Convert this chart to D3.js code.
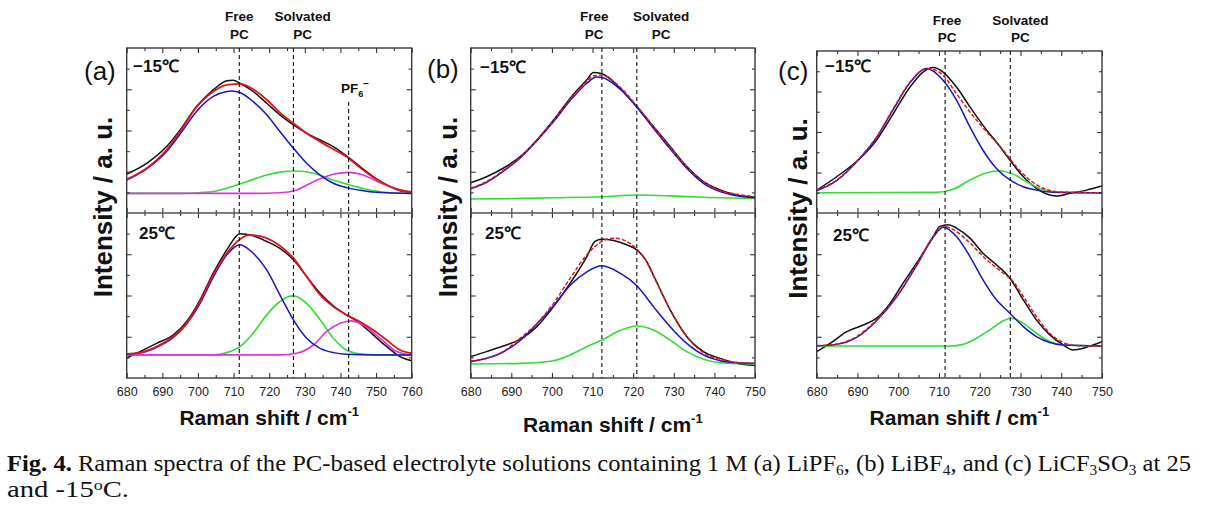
<!DOCTYPE html>
<html><head><meta charset="utf-8">
<script src="https://cdn.jsdelivr.net/npm/d3@7/dist/d3.min.js"></script>
<style>body{margin:0;background:#fff}svg{display:block}</style>
</head><body><svg id="chart" width="1208" height="510"></svg>
<script>
// ---------------- data (Raman shift cm-1, intensity a.u.) ----------------
const xTicks760 = [680,690,700,710,720,730,740,750,760];
const xMinor760 = [685,695,705,715,725,735,745,755];
const xTicks750 = [680,690,700,710,720,730,740,750];
const xMinor750 = [685,695,705,715,725,735,745];
const yMajor = [2,4,6];
const yMinor = [1,3,5,7];
const tempLabels = ["\u221215\u2103", "25\u2103"];
const panelLetters = ["(a)", "(b)", "(c)"];

// (a) LiPF6
const aTopBlack = [[680,1.89],[685.6,2.41],[691.2,3.22],[695,4.03],[699.6,5.16],[704.3,5.97],[708.1,6.41],[709.9,6.44],[711.8,6.29],[715.5,5.89],[719.3,5.32],[723,4.76],[726.8,4.27],[730.5,3.87],[734.3,3.54],[738,3.22],[741.7,2.77],[745.5,2.25],[749.2,1.76],[753,1.36],[756.7,1.08],[760,0.99]];
const aTopRed = [[680,1.63],[685.6,2.17],[691.2,3.06],[695,3.95],[699.6,5.13],[704.3,5.89],[708.1,6.21],[711.8,6.26],[715.5,6.0],[719.3,5.49],[723,4.87],[726.8,4.35],[730.5,3.87],[734.3,3.46],[738,3.09],[741.7,2.73],[745.5,2.2],[749.2,1.73],[753,1.36],[756.7,1.12],[760,1.02]];
const aTopBlue = [[680,1.6],[685.6,2.14],[691.2,2.98],[695,3.83],[699.6,4.92],[704.3,5.65],[708.1,5.89],[709.5,5.92],[711.8,5.84],[715.5,5.4],[719.3,4.76],[723,3.95],[726.8,3.14],[730.5,2.41],[734.3,1.84],[738,1.44],[741.7,1.23],[746.4,1.08],[751.1,0.99],[760,0.95]];
const aTopGreen = [[680,0.95],[695,0.95],[700,0.98],[704.3,1.04],[708,1.2],[711.8,1.41],[715.5,1.63],[719.3,1.84],[723,1.98],[727.2,2.04],[732.4,1.93],[738,1.6],[743.6,1.31],[749.2,1.08],[754,0.98],[760,0.95]];
const aTopMagenta = [[680,0.95],[715,0.95],[723,0.98],[727.7,1.12],[732.4,1.52],[738,1.88],[742.2,1.97],[746.4,1.84],[751.1,1.47],[755.8,1.15],[760,0.99]];
const aBotBlack = [[680,0.97],[683.7,1.28],[688.4,1.68],[693.1,2.09],[696.8,2.73],[700.6,3.79],[704.3,5.08],[708.1,6.21],[711.8,6.99],[715.5,6.89],[719.3,6.62],[723,6.29],[726.8,5.73],[730.5,4.92],[734.3,4.11],[738,3.5],[741.7,3.06],[745.5,2.65],[749.2,2.09],[753,1.52],[756.7,1.04],[760,0.84]];
const aBotRed = [[680,1.17],[683.7,1.23],[688.4,1.52],[693.1,2.01],[696.8,2.65],[700.6,3.71],[704.3,5.0],[708.1,6.05],[711.8,6.73],[714.6,6.94],[719.3,6.78],[723,6.41],[726.8,5.81],[730.5,4.92],[734.3,4.03],[738,3.46],[741.7,3.06],[745.5,2.73],[749.2,2.33],[753,1.84],[756.7,1.36],[760,1.2]];
const aBotBlue = [[680,1.15],[684,1.22],[688.4,1.49],[693.1,1.97],[696.8,2.62],[700.6,3.62],[704.3,4.89],[708.1,5.97],[711.8,6.46],[715.5,6.05],[719.3,5.24],[723,4.03],[726.8,2.82],[730.5,1.93],[734.3,1.44],[738,1.23],[741.7,1.15],[750,1.12],[760,1.12]];
const aBotGreen = [[680,1.12],[704.3,1.12],[708.1,1.23],[711.8,1.52],[715.5,2.17],[719.3,3.06],[723,3.71],[726.8,3.98],[730.5,3.62],[734.3,2.82],[738,1.93],[741.7,1.36],[745.5,1.17],[750,1.12],[760,1.12]];
const aBotMagenta = [[680,1.12],[723,1.12],[727.7,1.2],[732.4,1.6],[736.1,2.25],[739.9,2.65],[743.1,2.77],[746.4,2.57],[751.1,1.93],[755.8,1.28],[760,1.12]];

// (b) LiBF4
const bTopBlack = [[680,1.47],[683.9,1.76],[688,2.17],[692.2,2.73],[696.3,3.54],[700.4,4.51],[704.5,5.57],[708.6,6.46],[710.2,6.81],[712.3,6.75],[716.8,6.05],[720.9,5.16],[725,4.19],[729.1,3.22],[733.2,2.25],[737.3,1.52],[741.4,1.12],[745.5,0.87],[750,0.76]];
const bTopRed = [[680,1.2],[683.9,1.52],[688,2.06],[692.2,2.7],[696.3,3.54],[700.4,4.48],[704.5,5.52],[708.6,6.38],[710.2,6.65],[712.3,6.68],[716.8,6.1],[720.9,5.19],[725,4.19],[729.1,3.19],[733.2,2.25],[737.3,1.52],[741.4,1.08],[745.5,0.91],[750,0.79]];
const bTopBlue = [[680,1.17],[683.9,1.49],[688,2.02],[692.2,2.67],[696.3,3.5],[700.4,4.43],[704.5,5.45],[708.6,6.29],[711,6.59],[712.3,6.57],[716.8,6.0],[720.9,5.13],[725,4.11],[729.1,3.11],[733.2,2.17],[737.3,1.44],[741.4,1.04],[745.5,0.84],[750,0.74]];
const bTopGreen = [[680,0.68],[690,0.7],[700.4,0.74],[712.3,0.79],[720.9,0.87],[729.1,0.83],[737.3,0.76],[750,0.71]];
const bBotBlack = [[680,1.04],[683.9,1.28],[688,1.55],[692.2,1.88],[696.3,2.49],[700.4,3.46],[704.5,4.6],[708.6,5.89],[710.6,6.62],[712.3,6.73],[715.2,6.67],[718.4,6.46],[720.9,6.21],[723.3,5.65],[725,4.98],[729.1,3.3],[733.2,2.01],[737.3,1.28],[741.4,0.95],[745.5,0.71],[750,0.6]];
const bBotRed = [[680,0.83],[683.9,0.95],[688,1.28],[692.2,1.93],[696.3,2.65],[700.4,3.62],[704.5,4.84],[708.6,5.97],[711.1,6.46],[713.5,6.73],[715.5,6.78],[718.4,6.62],[720.9,6.25],[723.3,5.65],[725,4.95],[729.1,3.33],[733.2,2.01],[737.3,1.23],[741.4,0.91],[745.5,0.76],[750,0.71]];
const bBotBlue = [[680,0.79],[688,1.26],[692.2,1.82],[696.3,2.62],[700.4,3.5],[704.5,4.5],[708.6,5.15],[712.3,5.44],[716.8,5.08],[720.9,4.47],[725,3.46],[729.1,2.49],[733.2,1.68],[737.3,1.12],[741.4,0.84],[745.5,0.74],[750,0.71]];
const bBotGreen = [[680,0.68],[692.2,0.71],[700.4,0.84],[704.5,1.12],[708.6,1.52],[712.3,1.84],[716.8,2.3],[720.9,2.52],[725,2.33],[729.1,1.84],[733.2,1.28],[737.3,0.91],[741.4,0.74],[750,0.68]];

// (c) LiCF3SO3
const cTopBlack = [[680,1.13],[684.9,1.79],[690.6,2.69],[694.7,3.6],[698.8,4.91],[702.9,6.22],[706.1,6.96],[708.6,7.18],[711,6.96],[714.3,6.22],[717.6,5.24],[721.7,4.09],[724.1,3.51],[727.4,2.61],[730.7,1.79],[733.9,1.22],[736.4,0.94],[738.8,0.84],[742.1,0.97],[746.2,1.13],[750,1.33]];
const cTopRed = [[680,1.13],[684.9,1.63],[690.6,2.72],[694.7,3.76],[698.8,5.16],[702.9,6.47],[707,7.13],[708.6,7.09],[711,6.8],[714.3,5.89],[717.6,4.99],[721.7,4.01],[725.8,3.1],[729,2.28],[732.3,1.63],[735.6,1.22],[738.8,1.05],[742.1,1.02],[750,1.0]];
const cTopBlue = [[680,1.1],[684.9,1.6],[690.6,2.7],[694.7,3.73],[698.8,5.12],[702.9,6.44],[707,7.13],[711,6.55],[714.3,5.57],[717.6,4.25],[720.8,3.1],[724.1,2.2],[727.4,1.63],[730.7,1.3],[733.9,1.13],[738,1.03],[750,1.0]];
const cTopGreen = [[680,1.0],[709.4,1.02],[713.5,1.17],[717.6,1.63],[721.7,1.99],[724.9,2.09],[728.2,1.92],[731.5,1.54],[734.7,1.22],[738,1.05],[750,1.0]];
const cBotBlack = [[680,1.28],[683.3,1.68],[687.4,2.25],[691.4,2.57],[694.7,2.9],[698,3.62],[701.2,4.6],[705.3,5.81],[708.6,6.86],[710.2,7.35],[712.3,7.43],[714.3,7.27],[717.6,6.78],[720.8,6.05],[724.1,5.49],[727.4,4.84],[730.7,3.79],[733.9,2.82],[737.2,2.09],[740.5,1.6],[742.9,1.36],[745.4,1.44],[747.8,1.6],[750,1.76]];
const cBotRed = [[680,1.57],[684.9,1.65],[689.8,2.01],[694.7,2.82],[699.6,3.95],[704.5,5.49],[708.6,6.86],[711,7.35],[714.3,7.1],[717.6,6.54],[721.7,5.73],[725.8,5.08],[728.2,4.68],[730.7,3.95],[733.9,2.98],[737.2,2.17],[740.5,1.72],[743.7,1.57],[750,1.55]];
const cBotBlue = [[680,1.55],[684.9,1.63],[689.8,1.97],[694.7,2.78],[699.6,3.92],[704.5,5.45],[708.6,6.83],[711,7.31],[714.3,6.86],[717.6,5.89],[720.8,4.76],[724.1,3.79],[727.4,3.14],[730.7,2.49],[733.9,2.01],[737.2,1.72],[740.5,1.6],[750,1.55]];
const cBotGreen = [[680,1.55],[712.7,1.55],[715.9,1.63],[719.2,1.93],[722.5,2.33],[725.8,2.78],[727.8,2.9],[730.7,2.65],[733.9,2.17],[737.2,1.76],[740.5,1.6],[750,1.55]];

// reference band positions (cm-1)
const aBands = [711.6, 726.8, 742.3];
const bBands = [712.3, 720.9];
const cBands = [711.5, 727.5];

// ---------------- styles / layout ----------------
const SANS = '"Liberation Sans", Arial, Helvetica, sans-serif';
const SERIF = '"Liberation Serif", "Times New Roman", serif';
const COL = {black:'#111', red:'#e3141c', blue:'#1414cc', green:'#33dd33', magenta:'#dd33dd'};

function series(black, red, blue, green, magenta, redDash){
  const s = [{d:black, c:COL.black, w:1.5}];
  if (green) s.push({d:green, c:COL.green, w:1.6});
  if (magenta) s.push({d:magenta, c:COL.magenta, w:1.6});
  s.push({d:blue, c:COL.blue, w:1.5});
  s.push({d:red, c:COL.red, w:redDash?1.5:1.8, dash:redDash?'4,2':null});
  return s;
}

const panels = [
  {left:126.7, right:411.7, top:48, mid:213, bottom:378, xmax:760, ticks:xTicks760, minor:xMinor760,
   bands:aBands, bandTops:[48,48,102],
   halves:[series(aTopBlack,aTopRed,aTopBlue,aTopGreen,aTopMagenta,false), series(aBotBlack,aBotRed,aBotBlue,aBotGreen,aBotMagenta,false)],
   letterX:84, letterY:80, tempX:[133,139], tempY:[72,239],
   freeX:711.6, solvX:729.4, labY:[21,38.5], ylabX:103, xtitleY:425},
  {left:470.7, right:755, top:48, mid:213, bottom:378, xmax:750, ticks:xTicks750, minor:xMinor750,
   bands:bBands, bandTops:[48,48],
   halves:[series(bTopBlack,bTopRed,bTopBlue,bTopGreen,null,true), series(bBotBlack,bBotRed,bBotBlue,bBotGreen,null,true)],
   letterX:427, letterY:78, tempX:[480,485], tempY:[73,239],
   freeX:710.4, solvX:726.9, labY:[21,38.5], ylabX:448, xtitleY:432},
  {left:816.7, right:1102, top:51, mid:213, bottom:378, xmax:750, ticks:xTicks750, minor:xMinor750,
   bands:cBands, bandTops:[51,51],
   halves:[series(cTopBlack,cTopRed,cTopBlue,cTopGreen,null,true), series(cBotBlack,cBotRed,cBotBlue,cBotGreen,null,true)],
   letterX:778, letterY:80, tempX:[825,833], tempY:[72,241],
   freeX:712.0, solvX:730.0, labY:[25,42], ylabX:798, xtitleY:425}
];

const svg = d3.select('#chart');
svg.append('rect').attr('width',1208).attr('height',510).attr('fill','#fff');

panels.forEach((p, pi) => {
  const g = svg.append('g');
  const x = d3.scaleLinear().domain([680, p.xmax]).range([p.left, p.right]);
  const halfBounds = [[p.top, p.mid], [p.mid, p.bottom]];

  halfBounds.forEach(([t, b], hi) => {
    const y = d3.scaleLinear().domain([0, 8]).range([b, t]);
    const clipId = `clip${pi}${hi}`;
    g.append('clipPath').attr('id', clipId).append('rect')
      .attr('x', p.left).attr('y', t).attr('width', p.right - p.left).attr('height', b - t);
    const line = d3.line().x(d => x(d[0])).y(d => y(d[1])).curve(d3.curveMonotoneX);
    const cg = g.append('g').attr('clip-path', `url(#${clipId})`);
    p.halves[hi].forEach(s => {
      cg.append('path').attr('d', line(s.d)).attr('fill','none')
        .attr('stroke', s.c).attr('stroke-width', s.w)
        .attr('stroke-linejoin','round').attr('stroke-linecap', s.dash ? 'butt' : 'round')
        .attr('stroke-dasharray', s.dash);
    });

    // ticks (inward on all sides)
    const tickStyle = sel => { sel.select('.domain').remove(); sel.selectAll('line').attr('stroke','#333').attr('stroke-width',1.1); };
    const mk = (axis, tr) => g.append('g').attr('transform', tr).call(axis).call(tickStyle);
    mk(d3.axisBottom(x).tickValues(p.ticks).tickSize(-5).tickFormat(''), `translate(0,${b})`);
    mk(d3.axisBottom(x).tickValues(p.minor).tickSize(-3).tickFormat(''), `translate(0,${b})`);
    mk(d3.axisTop(x).tickValues(p.ticks).tickSize(-5).tickFormat(''), `translate(0,${t})`);
    mk(d3.axisTop(x).tickValues(p.minor).tickSize(-3).tickFormat(''), `translate(0,${t})`);
    mk(d3.axisLeft(y).tickValues(yMajor).tickSize(-5).tickFormat(''), `translate(${p.left},0)`);
    mk(d3.axisLeft(y).tickValues(yMinor).tickSize(-3).tickFormat(''), `translate(${p.left},0)`);
    mk(d3.axisRight(y).tickValues(yMajor).tickSize(-5).tickFormat(''), `translate(${p.right},0)`);
    mk(d3.axisRight(y).tickValues(yMinor).tickSize(-3).tickFormat(''), `translate(${p.right},0)`);

    // temperature label
    g.append('text').attr('x', p.tempX[hi]).attr('y', p.tempY[hi])
      .attr('font-family', SANS).attr('font-weight','bold').attr('font-size', 17)
      .attr('fill','#111').text(tempLabels[hi]);
  });

  // frame + divider
  g.append('rect').attr('x', p.left).attr('y', p.top).attr('width', p.right - p.left)
    .attr('height', p.bottom - p.top).attr('fill','none').attr('stroke','#3a3a3a').attr('stroke-width',1.4);
  g.append('line').attr('x1', p.left).attr('x2', p.right).attr('y1', p.mid).attr('y2', p.mid)
    .attr('stroke','#555').attr('stroke-width',1.6);

  // x tick labels
  const xl = g.append('g').attr('transform', `translate(0,${p.bottom})`)
    .call(d3.axisBottom(x).tickValues(p.ticks).tickSize(0).tickPadding(9).tickFormat(d3.format('d')));
  xl.select('.domain').remove();
  xl.selectAll('text').attr('font-family', SANS).attr('font-size', 12.5).attr('fill','#222');

  // dashed band lines
  p.bands.forEach((bv, i) => {
    g.append('line').attr('x1', x(bv)).attr('x2', x(bv)).attr('y1', p.bandTops[i]).attr('y2', p.bottom)
      .attr('stroke','#111').attr('stroke-width',1.1).attr('stroke-dasharray','4,3');
  });

  // band labels
  const lab = (cx, lines) => lines.forEach((t, i) => g.append('text').attr('x', x(cx)).attr('y', p.labY[i])
    .attr('text-anchor','middle').attr('font-family', SANS).attr('font-weight','bold')
    .attr('font-size', 13.5).attr('fill','#111').text(t));
  lab(p.freeX, ['Free','PC']);
  lab(p.solvX, ['Solvated','PC']);

  // panel letter
  g.append('text').attr('x', p.letterX).attr('y', p.letterY).attr('font-family', SANS)
    .attr('font-size', 26).attr('fill','#111').text(panelLetters[pi]);

  // y axis title
  g.append('text').attr('transform', `translate(${p.ylabX + 9},${(p.top + p.bottom) / 2 - 6}) rotate(-90)`)
    .attr('text-anchor','middle').attr('font-family', SANS).attr('font-weight','bold')
    .attr('font-size', 26).attr('fill','#111').text('Intensity / a. u.');

  // x axis title
  const xt = g.append('text').attr('x', (p.left + p.right) / 2).attr('y', p.xtitleY)
    .attr('text-anchor','middle').attr('font-family', SANS).attr('font-weight','bold')
    .attr('font-size', 21).attr('fill','#111');
  xt.append('tspan').text('Raman shift / cm');
  xt.append('tspan').attr('font-size', 13).attr('dy', -9).text('-1');

  // PF6- label in panel (a)
  if (pi === 0) {
    const pf = g.append('text').attr('x', x(744.1)).attr('y', 93).attr('text-anchor','middle')
      .attr('font-family', SANS).attr('font-weight','bold').attr('font-size', 13.5).attr('fill','#111');
    pf.append('tspan').text('PF');
    pf.append('tspan').attr('font-size', 9).attr('dy', 4).text('6');
    pf.append('tspan').attr('font-size', 10).attr('dy', -10).text('\u2212');
  }
});

// caption
const cap1 = svg.append('text').attr('x', 7).attr('y', 471).attr('font-family', SERIF)
  .attr('font-size', 24).attr('fill','#111').attr('textLength', 1184).attr('lengthAdjust','spacingAndGlyphs');
const parts1 = [
  ['Fig. 4.', 'b'], [' Raman spectra of the PC-based electrolyte solutions containing 1 M (a) LiPF', ''], ['6', 'sub'],
  [', (b) LiBF', ''], ['4', 'sub'], [', and (c) LiCF', ''], ['3', 'sub'], ['SO', ''], ['3', 'sub'], [' at 25', '']
];
parts1.forEach(([t, k]) => {
  const ts = cap1.append('tspan').text(t);
  if (k === 'b') ts.attr('font-weight','bold');
  if (k === 'sub') ts.attr('font-size', 15).attr('baseline-shift', '-25%');
});
const cap2 = svg.append('text').attr('x', 7).attr('y', 497).attr('font-family', SERIF)
  .attr('font-size', 24).attr('fill','#111').attr('textLength', 122).attr('lengthAdjust','spacingAndGlyphs');
cap2.append('tspan').text('and -15');
cap2.append('tspan').attr('font-size', 15).attr('baseline-shift', '45%').text('o');
cap2.append('tspan').text('C.');
</script>
</body></html>
